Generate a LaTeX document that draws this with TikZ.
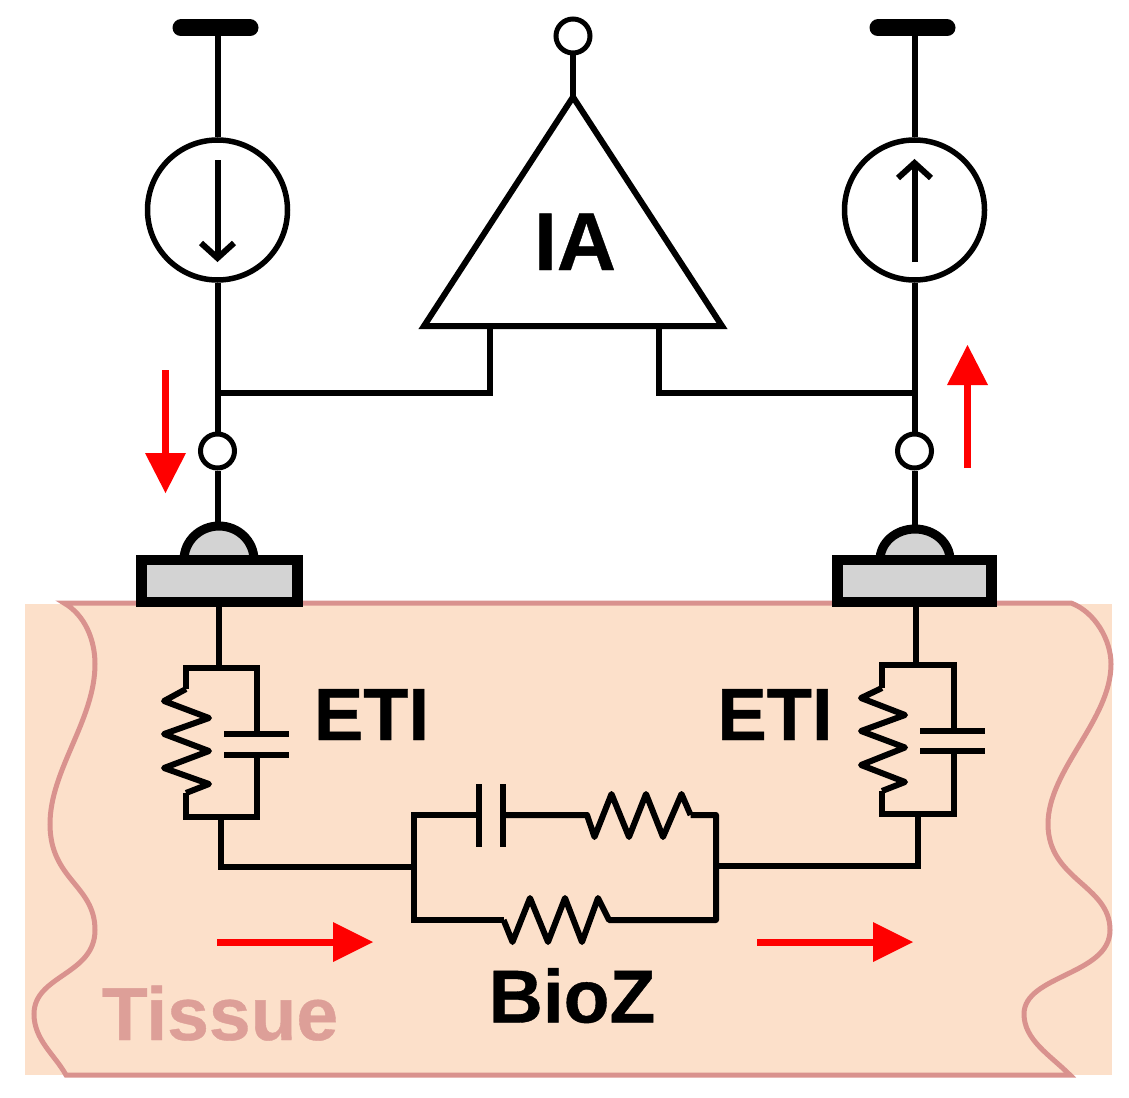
\documentclass[tikz,border=0pt]{standalone}
\usepackage{fontspec}
\setmainfont{Liberation Sans}
\newfontfamily\heavy[FakeBold=0.5]{Liberation Sans Bold}
\usetikzlibrary{calc}
\definecolor{tissuefill}{HTML}{FCE0CA}
\definecolor{tissueline}{HTML}{D9928E}
\definecolor{tissuetext}{HTML}{DD9F98}
\definecolor{metal}{HTML}{D3D3D3}
\tikzset{
  wire/.style={draw=black,line width=6pt,line cap=butt,line join=miter},
  plate/.style={draw=black,line width=6.5pt},
  res/.style={draw=black,line width=6pt,line join=round},
  rail/.style={draw=black,line width=17pt,line cap=round},
  source/.style={circle,draw=black,fill=white,line width=5.5pt,minimum size=140pt,inner sep=0pt},
  term/.style={circle,draw=black,fill=white,line width=5pt,minimum size=34pt,inner sep=0pt},
  pad/.style={draw=black,fill=metal,line width=10.5pt},
  dome/.style={draw=black,fill=metal,line width=9pt},
  flowline/.style={draw=red,line width=7pt},
  flowhead/.style={fill=red,draw=none},
  label/.style={font=\heavy\fontsize{74}{80}\selectfont,anchor=base,inner sep=0pt,text=black},
  tissue/.style={draw=tissueline,fill=none,line width=5pt}
}
\begin{document}
\begin{tikzpicture}[x=1pt,y=-1pt]
\useasboundingbox (0,0) rectangle (1129,1097);
% tissue
\fill[tissuefill] (25,604) rectangle (1112,1075);
\draw[tissue] (64,603) .. controls (85,615) and (95,640) .. (95,664)
  .. controls (95,720) and (50,770) .. (50,824)
  .. controls (50,880) and (95,885) .. (95,930)
  .. controls (95,975) and (34,975) .. (34,1014)
  .. controls (34,1040) and (55,1055) .. (66,1075)
  -- (1070,1075)
  .. controls (1050,1055) and (1024,1040) .. (1024,1014)
  .. controls (1024,975) and (1110,975) .. (1110,930)
  .. controls (1110,885) and (1048,880) .. (1048,824)
  .. controls (1048,770) and (1111,720) .. (1111,664)
  .. controls (1111,640) and (1095,612) .. (1071,603)
  -- cycle;
\node[label,text=tissuetext,font=\heavy\fontsize{75}{80}\selectfont] (tissuelabel) at (220,1040) {Tissue};

% coordinates
\coordinate (railL) at (217.5,28); \coordinate (railLa) at (181,28); \coordinate (railLb) at (250,28);
\coordinate (railR) at (914.5,28); \coordinate (railRa) at (878,28); \coordinate (railRb) at (947,28);
\coordinate (jL) at (217.5,393); \coordinate (jR) at (914.5,393);
\coordinate (ampL) at (490,326); \coordinate (ampR) at (659,326);
\coordinate (domeL) at (217.5,525); \coordinate (domeR) at (914.5,529);

% rails and sources
\draw[rail] (railLa) -- (railLb);
\draw[rail] (railRa) -- (railRb);
\node[source] (srcL) at (217.5,210) {};
\node[source] (srcR) at (914.5,210) {};
\draw[wire] (railL) -- (srcL);
\draw[wire] (railR) -- (srcR);
\coordinate (aLs) at (217.5,160); \coordinate (aLe) at (217.5,258);
\coordinate (aRs) at (914.5,262); \coordinate (aRe) at (914.5,163);
\draw[wire] (aLs) -- (aLe);
\draw[wire] (201,243) -- (aLe) -- (234,243);
\draw[wire] (aRs) -- (aRe);
\draw[wire] (898,178) -- (aRe) -- (931,178);

% amplifier
\node[term] (out) at (573,36) {};
\coordinate (apex) at (573,97);
\draw[wire] (out) -- (apex);
\draw[wire,line join=miter] (apex) -- (722,326) -- (424,326) -- cycle;
\node[label,font=\heavy\fontsize{82}{80}\selectfont] (ia) at (575,270) {IA};
\draw[wire] (ampL) -- (jL -| ampL) -- (jL);
\draw[wire] (ampR) -- (jR -| ampR) -- (jR);

% terminals and electrodes
\node[term] (tL) at (217.5,451) {};
\node[term] (tR) at (914.5,451) {};
\draw[wire] (srcL) -- (jL) -- (tL);
\draw[wire] (srcR) -- (jR) -- (tR);
\draw[wire] (tL) -- (domeL);
\draw[wire] (tR) -- (domeR);
\draw[dome] (184,560) arc[start angle=180,end angle=360,x radius=35,y radius=34] -- cycle;
\draw[dome] (880,560) arc[start angle=180,end angle=360,x radius=35,y radius=31] -- cycle;
\node[pad,minimum width=156pt,minimum height=42pt,inner sep=0pt] (padL) at (219.5,581) {};
\node[pad,minimum width=154pt,minimum height=42pt,inner sep=0pt] (padR) at (914.5,581) {};

% left ETI
\coordinate (etiLt) at (219,668); \coordinate (etiLb) at (221,817);
\draw[wire] (padL.south -| etiLt) -- (etiLt);
\draw[wire] (186,689) -- (186,668) -- (257,668) -- (257,734);
\draw[wire] (257,755) -- (257,817) -- (186,817) -- (186,793);
\draw[res] (186,689) -- (164,701) -- (209,718) -- (164,734) -- (209,751) -- (164,768) -- (209,784) -- (186,793);
\draw[plate] (224,734) -- (289,734);
\draw[plate] (224,755) -- (289,755);
\node[label] (etiLlab) at (371.5,740) {ETI};

% right ETI
\coordinate (etiRt) at (916,665); \coordinate (etiRb) at (918,814);
\draw[wire] (padR.south -| etiRt) -- (etiRt);
\draw[wire] (882,688) -- (882,665) -- (954,665) -- (954,731);
\draw[wire] (954,751) -- (954,814) -- (882,814) -- (882,791);
\draw[res] (882,688) -- (861,698) -- (905,715) -- (861,731) -- (905,747.5) -- (861,765) -- (905,782) -- (882,791);
\draw[plate] (920,731) -- (984.5,731);
\draw[plate] (920,751) -- (984.5,751);
\node[label] (etiRlab) at (775,740) {ETI};

% BioZ network
\coordinate (zL) at (413.6,867); \coordinate (zR) at (716,866);
\draw[wire] (etiLb) -- (etiLb |- zL) -- (zL);
\draw[wire] (etiRb) -- (etiRb |- zR) -- (zR);
\draw[wire] (479,815) -- (413.6,815) -- (413.6,920) -- (503.6,920);
\draw[res] (503.6,920) -- (512.5,942) -- (530,898) -- (548,942) -- (565,898) -- (582,942) -- (598,898) -- (609,920) -- (716,920) -- (716,815) -- (690.6,815);
\draw[res] (690.6,815) -- (681.5,794) -- (663,837) -- (646,794) -- (629,837) -- (611.5,794) -- (594.5,837) -- (587,815) -- (503,815);
\draw[plate] (479,784) -- (479,847);
\draw[plate] (503,784) -- (503,847);
\node[label,font=\heavy\fontsize{75}{80}\selectfont] (bioz) at (572,1022.5) {BioZ};

% current arrows
\draw[flowline] (165,370) -- (165,458);
\fill[flowhead] (145,453) -- (186,453) -- (165.5,493) -- cycle;
\draw[flowline] (967,468) -- (967,380);
\fill[flowhead] (947,385) -- (988,385) -- (967.5,345) -- cycle;
\draw[flowline] (217,942) -- (338,942);
\fill[flowhead] (333,922) -- (333,962) -- (373,942) -- cycle;
\draw[flowline] (757,942) -- (878,942);
\fill[flowhead] (873,922) -- (873,962) -- (913,942) -- cycle;
\end{tikzpicture}
\end{document}
